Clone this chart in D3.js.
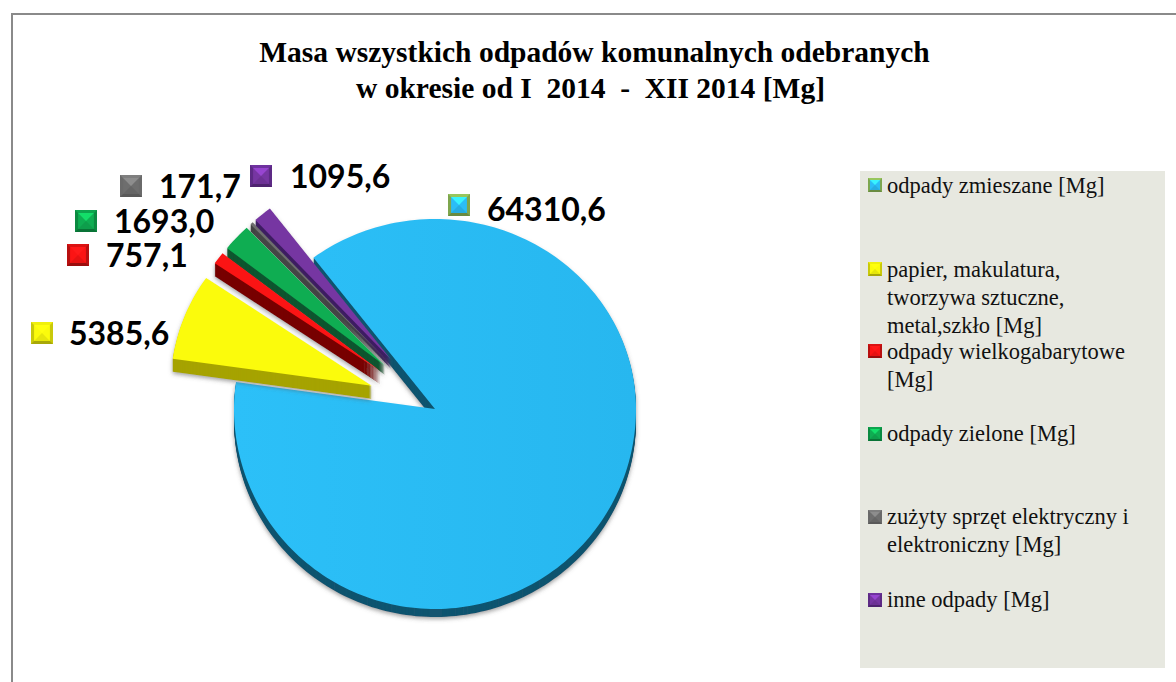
<!DOCTYPE html>
<html>
<head>
<meta charset="utf-8">
<script src="https://cdn.jsdelivr.net/npm/d3@7"></script>
<style>
    html, body { margin: 0; padding: 0; background: #fff; overflow: hidden; }
    svg { display: block; }
    .label { font-family: Lato, sans-serif; font-weight: 700; font-size: 32px; fill: #000; }
    .title { font-family: "Liberation Serif", serif; font-weight: 700; fill: #000; font-size: 29.5px; }
    .legend { font-family: "Liberation Serif", serif; fill: #111; font-size: 22.5px; }
</style>
</head>
<body>
<div id="chart"></div>
<script>
// dane
const categories = ["odpady zmieszane [Mg]", "papier, makulatura, tworzywa sztuczne, metal,szkło [Mg]", "odpady wielkogabarytowe [Mg]", "odpady zielone [Mg]", "zużyty sprzęt elektryczny i elektroniczny [Mg]", "inne odpady [Mg]"];
const values = [64310.6, 5385.6, 757.1, 1693.0, 171.7, 1095.6];
const valueLabels = ["64310,6", "5385,6", "757,1", "1693,0", "171,7", "1095,6"];
const titleLines = ["Masa wszystkich odpadów komunalnych odebranych", "w okresie od I  2014  -  XII 2014 [Mg]"];
const legendLines = [
    ["odpady zmieszane [Mg]"],
    ["papier, makulatura,", "tworzywa sztuczne,", "metal,szkło [Mg]"],
    ["odpady wielkogabarytowe", "[Mg]"],
    ["odpady zielone [Mg]"],
    ["zużyty sprzęt elektryczny i", "elektroniczny [Mg]"],
    ["inne odpady [Mg]"]
];

// kolory
const faceColors = ["#2bbdf6", "#fbfb0c", "#fb1414", "#0fad52", "#6e6e6e", "#7636a2"];
const wallColors = ["#12546f", "#a6a300", "#780000", "#0a5530", "#444444", "#3e1e62"];
const markerEdge = ["#7ea64e", "#c9c90a", "#b81010", "#0b8a41", "#6a6a6a", "#5d2a85"];

// uklad
const width = 1176, height = 682;
const cx = 435, cy = 409;
const rx = 201, ryTop = 190, ryBottom = 200;
const explode = 68;
const startDeg = -37.2;
const depths = [12, 13, 13, 9, 7, 9];
const labelPos = [[487, 221], [69, 345], [106, 267], [114, 233], [159, 198], [290, 188]];
const labelMarker = [[448, 194], [31, 322], [67, 244], [75, 210], [120, 175], [250, 165]];
const legendMarkerY = [178, 262, 344, 427, 510, 593];
const legendBase = [193, 277, 359, 441, 524, 607];
const legendStep = 28;

const svg = d3.select("#chart").append("svg")
    .attr("width", width)
    .attr("height", height);

const defs = svg.append("defs");

const shadow = defs.append("filter").attr("id", "shadow")
    .attr("x", "-10%").attr("y", "-10%").attr("width", "120%").attr("height", "120%");
shadow.append("feDropShadow")
    .attr("dx", 0).attr("dy", 2).attr("stdDeviation", 2)
    .attr("flood-color", "#555").attr("flood-opacity", 0.55);

const blueGrad = defs.append("linearGradient").attr("id", "blueFace")
    .attr("x1", "0").attr("y1", "0").attr("x2", "1").attr("y2", "0");
blueGrad.append("stop").attr("offset", "0").attr("stop-color", "#2cc0f8");
blueGrad.append("stop").attr("offset", "1").attr("stop-color", "#27b7ef");

// ramka
svg.append("path")
    .attr("d", d3.line()([[12, height], [12, 14], [width, 14]]))
    .attr("fill", "none")
    .attr("stroke", "#8a8a8a")
    .attr("stroke-width", 2);

// tytul
svg.selectAll(".title")
    .data(titleLines)
    .enter()
    .append("text")
    .attr("class", "title")
    .attr("x", (d, i) => i == 0 ? 594.5 : 590.5)
    .attr("y", (d, i) => 62 + i * 36)
    .attr("text-anchor", "middle")
    .attr("xml:space", "preserve")
    .style("white-space", "pre")
    .text(d => d);

// wycinki
const pie = d3.pie().sort(null)
    .startAngle(startDeg * Math.PI / 180)
    .endAngle(startDeg * Math.PI / 180 + 2 * Math.PI);
const arcs = pie(values);

// os y lekko spłaszczona u góry, jak w wykresie 3D
function wedge(d, bottom) {
    const n = Math.max(4, Math.ceil((d.endAngle - d.startAngle) * 40));
    const angle = d3.scaleLinear().domain([0, n]).range([d.startAngle, d.endAngle]);
    const pts = d3.range(n + 1).map(function(k) {
        const a = angle(k), c = Math.cos(a);
        return [rx * Math.sin(a), -c * (c > 0 ? ryTop : bottom)];
    });
    return d3.line()([[0, 0]].concat(pts)) + "Z";
}

function offset(d, i) {
    if (i == 0) return [cx, cy];
    const mid = (d.startAngle + d.endAngle) / 2;
    return [cx + explode * Math.sin(mid), cy - explode * Math.cos(mid) * 0.94];
}

// kolejnosc rysowania: niebieski, potem od fioletowego do zoltego
const order = [0, 5, 4, 3, 2, 1];
order.forEach(function(i) {
    const d = arcs[i];
    const p = offset(d, i);
    const g = svg.append("g").attr("transform", "translate(" + p[0] + "," + p[1] + ")");
    const wall = g.append("g").attr("filter", "url(#shadow)");
    wall.selectAll("path")
        .data(d3.range(depths[i], 0, -1))
        .enter()
        .append("path")
        .attr("d", dz => wedge(d, i == 0 ? ryBottom - 4 : ryBottom))
        .attr("transform", dz => "translate(0," + dz + ")")
        .attr("fill", wallColors[i]);
    g.append("path")
        .attr("d", wedge(d, ryBottom))
        .attr("fill", i == 0 ? "url(#blueFace)" : faceColors[i]);
});

// znacznik ze scietymi krawedziami
function marker(x, y, size, i) {
    const col = faceColors[i];
    const edge = markerEdge[i];
    const b = size * 0.14;
    const m = svg.append("g").attr("transform", "translate(" + x + "," + y + ")");
    const c = size / 2;
    m.append("rect").attr("width", size).attr("height", size).attr("fill", edge);
    m.append("rect").attr("x", b).attr("y", b)
        .attr("width", size - 2 * b).attr("height", size - 2 * b).attr("fill", col);
    m.append("path")
        .attr("d", d3.line()([[b, b], [size - b, b], [c, c]]) + "Z")
        .attr("fill", d3.color(col).brighter(0.7));
    m.append("path")
        .attr("d", d3.line()([[b, size - b], [size - b, size - b], [c, c]]) + "Z")
        .attr("fill", d3.color(col).darker(0.25));
    m.append("path")
        .attr("d", d3.line()([[0, 0], [size, 0], [size - b, b], [b, b]]) + "Z")
        .attr("fill", d3.color(edge).brighter(0.5));
    m.append("path")
        .attr("d", d3.line()([[0, size], [size, size], [size - b, size - b], [b, size - b]]) + "Z")
        .attr("fill", d3.color(edge).darker(0.5));
}

// etykiety wartosci
valueLabels.forEach(function(t, i) {
    marker(labelMarker[i][0], labelMarker[i][1], 22, i);
    svg.append("text")
        .attr("class", "label")
        .attr("x", labelPos[i][0])
        .attr("y", labelPos[i][1])
        .text(t);
});

// legenda
svg.append("rect")
    .attr("x", 860).attr("y", 171)
    .attr("width", 305).attr("height", 497)
    .attr("fill", "#e7e8e0");

legendLines.forEach(function(lines, i) {
    marker(868, legendMarkerY[i], 14, i);
    svg.selectAll(".leg" + i)
        .data(lines)
        .enter()
        .append("text")
        .attr("class", "legend leg" + i)
        .attr("x", 887)
        .attr("y", (d, k) => legendBase[i] + k * legendStep)
        .text(d => d);
});
</script>
</body>
</html>
